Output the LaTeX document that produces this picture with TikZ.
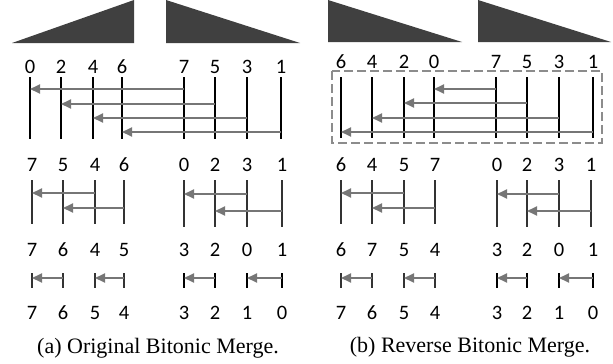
\documentclass[tikz,border=0pt]{standalone}
\usepackage{fontspec}
\setmainfont{Liberation Serif}
\newfontfamily\numfont{Carlito}
\usetikzlibrary{arrows.meta}
\definecolor{wedge}{RGB}{64,64,64}
\definecolor{cmpgray}{RGB}{118,118,118}
\definecolor{boxgray}{RGB}{140,140,140}
\begin{document}
\begin{tikzpicture}[x=1pt,y=-1pt,
  num/.style={font=\numfont\fontsize{20.5}{20}\selectfont, inner sep=0pt},
  wire/.style={line width=1.6pt, black},
  softwire/.style={line width=1.3pt, black!80},
  cmp/.style={line width=1.8pt, cmpgray, -{Triangle[length=10pt,width=9pt]}},
  wedgefill/.style={fill=wedge, draw=none},
  captext/.style={font=\fontsize{22}{24}\selectfont, inner sep=0pt, anchor=base}]
\useasboundingbox (0,0) rectangle (613,364);

% ---------------- (a) original bitonic merge ----------------
\fill[wedgefill] (12,43) -- (134,43) -- (134,0) -- cycle;
\fill[wedgefill] (166,0) -- (166,43) -- (300,43) -- cycle;

% stage 1
\foreach \v/\x in {0/30,2/61,4/93,6/122,7/184,5/215,3/247,1/281}
  \node[num] (a1-\v) at (\x,66.5) {\v};
\foreach \v in {0,2,4,6,7,5,3,1}
  \draw[wire] (a1-\v |- 0,77) -- (a1-\v |- 0,139);
\draw[cmp] (a1-7 |- 0,89)  -- (a1-0 |- 0,89);
\draw[cmp] (a1-5 |- 0,104) -- (a1-2 |- 0,104);
\draw[cmp] (a1-3 |- 0,118) -- (a1-4 |- 0,118);
\draw[cmp] (a1-1 |- 0,132) -- (a1-6 |- 0,132);

% stage 2
\foreach \v/\x in {7/32,5/63,4/95,6/124,0/184,2/215,3/247,1/282}
  \node[num] (a2-\v) at (\x,165) {\v};
\foreach \v in {7,5,4,6}
  \draw[softwire] (a2-\v |- 0,180) -- (a2-\v |- 0,224);
\foreach \v in {0,2,3,1}
  \draw[softwire] (a2-\v |- 0,180) -- (a2-\v |- 0,227);
\draw[cmp] (a2-4 |- 0,193) -- (a2-7 |- 0,193);
\draw[cmp] (a2-6 |- 0,208) -- (a2-5 |- 0,208);
\draw[cmp] (a2-3 |- 0,194) -- (a2-0 |- 0,194);
\draw[cmp] (a2-1 |- 0,211) -- (a2-2 |- 0,211);

% stage 3
\foreach \v/\x in {7/32,6/63,4/95,5/124,3/184,2/215,0/247,1/282}
  \node[num] (a3-\v) at (\x,249.5) {\v};
\foreach \v in {7,6,4,5}
  \draw[softwire] (a3-\v |- 0,273) -- (a3-\v |- 0,288);
\foreach \v in {3,2,0,1}
  \draw[wire] (a3-\v |- 0,273) -- (a3-\v |- 0,288);
\draw[cmp] (a3-6 |- 0,278) -- (a3-7 |- 0,278);
\draw[cmp] (a3-5 |- 0,278) -- (a3-4 |- 0,278);
\draw[cmp] (a3-2 |- 0,278) -- (a3-3 |- 0,278);
\draw[cmp] (a3-1 |- 0,278) -- (a3-0 |- 0,278);

% result
\foreach \v/\x in {7/32,6/63,5/95,4/124,3/184,2/215,1/247,0/282}
  \node[num] (a4-\v) at (\x,313) {\v};

\node[captext] (capa) at (158,353) {(a) Original Bitonic Merge.};

% ---------------- (b) reverse bitonic merge ----------------
\fill[wedgefill] (328,0) -- (328,42) -- (462,42) -- cycle;
\fill[wedgefill] (478,0) -- (478,42) -- (611,42) -- cycle;

% stage 1
\foreach \v/\x in {6/341,4/372,2/404,0/434,7/496,5/527,3/559,1/593}
  \node[num] (b1-\v) at (\x,61.5) {\v};
\draw[boxgray, line width=1.6pt, dash pattern=on 9pt off 4pt]
  (332,71) rectangle (602,143);
\foreach \v in {6,4,2,0,7,5,3,1}
  \draw[wire] (b1-\v |- 0,77) -- (b1-\v |- 0,138);
\draw[cmp] (b1-7 |- 0,89)  -- (b1-0 |- 0,89);
\draw[cmp] (b1-5 |- 0,103) -- (b1-2 |- 0,103);
\draw[cmp] (b1-3 |- 0,118) -- (b1-4 |- 0,118);
\draw[cmp] (b1-1 |- 0,132) -- (b1-6 |- 0,132);

% stage 2
\foreach \v/\x in {6/341,4/372,5/404,7/435,0/497,2/527,3/559,1/591}
  \node[num] (b2-\v) at (\x,165) {\v};
\foreach \v in {6,4,5,7}
  \draw[softwire] (b2-\v |- 0,180) -- (b2-\v |- 0,224);
\foreach \v in {0,2,3,1}
  \draw[softwire] (b2-\v |- 0,180) -- (b2-\v |- 0,227);
\draw[cmp] (b2-5 |- 0,193) -- (b2-6 |- 0,193);
\draw[cmp] (b2-7 |- 0,208) -- (b2-4 |- 0,208);
\draw[cmp] (b2-3 |- 0,194) -- (b2-0 |- 0,194);
\draw[cmp] (b2-1 |- 0,211) -- (b2-2 |- 0,211);

% stage 3
\foreach \v/\x in {6/341,7/372,5/404,4/435,3/497,2/527,0/559,1/593}
  \node[num] (b3-\v) at (\x,249.5) {\v};
\foreach \v in {6,7,5,4}
  \draw[softwire] (b3-\v |- 0,273) -- (b3-\v |- 0,288);
\foreach \v in {3,2,0,1}
  \draw[wire] (b3-\v |- 0,273) -- (b3-\v |- 0,288);
\draw[cmp] (b3-7 |- 0,278) -- (b3-6 |- 0,278);
\draw[cmp] (b3-4 |- 0,278) -- (b3-5 |- 0,278);
\draw[cmp] (b3-2 |- 0,278) -- (b3-3 |- 0,278);
\draw[cmp] (b3-1 |- 0,278) -- (b3-0 |- 0,278);

% result
\foreach \v/\x in {7/341,6/372,5/404,4/435,3/497,2/527,1/559,0/593}
  \node[num] (b4-\v) at (\x,313) {\v};

\node[captext] (capb) at (470,352) {(b) Reverse Bitonic Merge.};
\end{tikzpicture}
\end{document}
